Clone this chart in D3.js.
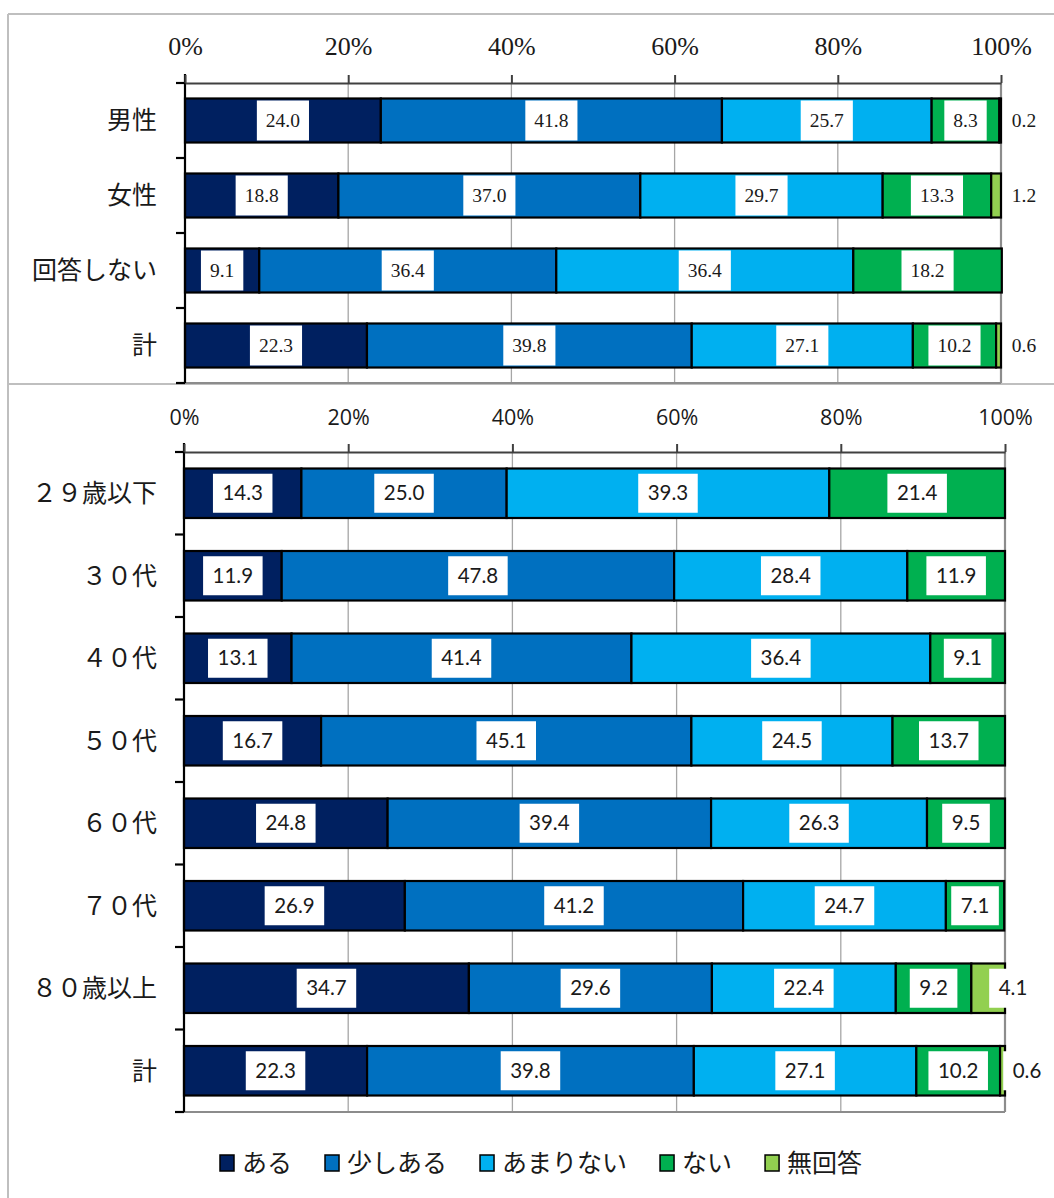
<!DOCTYPE html>
<html>
<head>
<meta charset="utf-8">
<script src="https://cdn.jsdelivr.net/npm/d3@7"></script>
<style>
  body { margin: 0; background: #fff; }
  svg { display: block; }
</style>
</head>
<body>
<svg id="chart" width="1054" height="1198"></svg>
<script>
// Answer categories and their colours
const seriesNames = ["ある", "少しある", "あまりない", "ない", "無回答"];
const seriesColors = ["#002060", "#0070C0", "#00B0F0", "#00B050", "#92D050"];
const tickValues = [0, 20, 40, 60, 80, 100];

// By gender (%)
const genderCats = ["男性", "女性", "回答しない", "計"];
const genderAru = [24.0, 18.8, 9.1, 22.3];
const genderSukoshi = [41.8, 37.0, 36.4, 39.8];
const genderAmari = [25.7, 29.7, 36.4, 27.1];
const genderNai = [8.3, 13.3, 18.2, 10.2];
const genderNoAnswer = [0.2, 1.2, 0, 0.6];

// By age group (%)
const ageCats = ["２９歳以下", "３０代", "４０代", "５０代", "６０代", "７０代", "８０歳以上", "計"];
const ageAru = [14.3, 11.9, 13.1, 16.7, 24.8, 26.9, 34.7, 22.3];
const ageSukoshi = [25.0, 47.8, 41.4, 45.1, 39.4, 41.2, 29.6, 39.8];
const ageAmari = [39.3, 28.4, 36.4, 24.5, 26.3, 24.7, 22.4, 27.1];
const ageNai = [21.4, 11.9, 9.1, 13.7, 9.5, 7.1, 9.2, 10.2];
const ageNoAnswer = [0, 0, 0, 0, 0, 0, 4.1, 0.6];

const svg = d3.select("#chart");
const fmt = d3.format(".1f");
const jpFont = "'Noto Sans CJK JP', sans-serif";

function buildRows(cats, cols) {
  return cats.map((c, i) => {
    const row = { cat: c };
    seriesNames.forEach((s, j) => { row[s] = cols[j][i]; });
    return row;
  });
}

// Outer frame lines
const frame = svg.append("g").attr("stroke", "#bfbfbf").attr("stroke-width", 2);
frame.append("line").attr("x1", 8).attr("x2", 1054).attr("y1", 14).attr("y2", 14);
frame.append("line").attr("x1", 8).attr("x2", 8).attr("y1", 14).attr("y2", 1198);
frame.append("line").attr("x1", 8).attr("x2", 1054).attr("y1", 384).attr("y2", 384);

function drawPanel(cfg) {
  const rows = buildRows(cfg.cats, cfg.cols);
  const x = d3.scaleLinear().domain([0, 100]).range([cfg.x0, cfg.x1]);
  const n = cfg.cats.length;
  const y = d3.scaleBand().domain(cfg.cats).range([cfg.y0, cfg.y1])
    .paddingInner(cfg.pad).paddingOuter(cfg.pad / 2);
  const step = y.step();
  const g = svg.append("g");

  // vertical gridlines
  g.append("g").selectAll("line").data(tickValues.filter(t => t > 0)).join("line")
    .attr("x1", d => x(d)).attr("x2", d => x(d))
    .attr("y1", cfg.y0).attr("y2", cfg.y1)
    .attr("stroke", d => d === 100 ? "#8c8c8c" : "#a6a6a6")
    .attr("stroke-width", d => d === 100 ? 2.2 : 1.3);

  // bottom edge of plot
  g.append("line").attr("x1", cfg.x0).attr("x2", cfg.x1)
    .attr("y1", cfg.y1).attr("y2", cfg.y1)
    .attr("stroke", "#8c8c8c").attr("stroke-width", 2);

  // stacked bars
  const stacked = d3.stack().keys(seriesNames)(rows);
  const layers = g.append("g").selectAll("g").data(stacked).join("g")
    .attr("fill", (d, i) => seriesColors[i]);
  layers.selectAll("rect").data(d => d.filter(p => p[1] - p[0] > 0)).join("rect")
    .attr("x", d => x(d[0]))
    .attr("width", d => x(d[1]) - x(d[0]))
    .attr("y", d => y(d.data.cat))
    .attr("height", y.bandwidth())
    .attr("stroke", "#000").attr("stroke-width", 2.2);

  // value labels in white boxes
  const lab = g.append("g");
  stacked.forEach((layer, si) => {
    layer.forEach(p => {
      const v = p[1] - p[0];
      if (v <= 0) return;
      const val = p.data[seriesNames[si]];
      const last = si === seriesNames.length - 1;
      let cx = (x(p[0]) + x(p[1])) / 2;
      if (last) cx = x(p[1]) + (val < 2 ? cfg.smallOff : cfg.bigOff);
      const cy = y(p.data.cat) + y.bandwidth() / 2;
      const box = lab.append("rect").attr("fill", "#fff");
      const t = lab.append("text")
        .attr("x", cx).attr("y", cy).attr("dy", "0.35em")
        .attr("text-anchor", "middle")
        .attr("font-family", cfg.numFont).attr("font-size", cfg.labelSize)
        .attr("fill", "#1a1a1a")
        .text(fmt(val));
      const w = t.node().getComputedTextLength() + cfg.boxPad * 2;
      box.attr("x", cx - w / 2).attr("width", w)
        .attr("y", cy - cfg.boxH / 2).attr("height", cfg.boxH);
    });
  });

  // left axis with ticks at band boundaries
  const yAxis = g.append("g").attr("stroke", "#000").attr("stroke-width", 2.2);
  yAxis.append("line").attr("x1", cfg.x0).attr("x2", cfg.x0)
    .attr("y1", cfg.y0 - 9).attr("y2", cfg.y1);
  yAxis.selectAll(".tk").data(d3.range(n + 1)).join("line").attr("class", "tk")
    .attr("x1", cfg.x0 - 9).attr("x2", cfg.x0)
    .attr("y1", k => cfg.y0 + k * step).attr("y2", k => cfg.y0 + k * step);

  // category labels
  g.append("g").selectAll("text").data(cfg.cats).join("text")
    .attr("x", cfg.x0 - cfg.catGap)
    .attr("y", d => y(d) + y.bandwidth() / 2)
    .attr("dy", "0.35em")
    .attr("text-anchor", "end")
    .attr("font-family", cfg.catFont).attr("font-size", 25)
    .attr("fill", "#1a1a1a")
    .text(d => d);

  // top percentage axis
  const xAxis = g.append("g").attr("transform", `translate(0,${cfg.y0})`)
    .call(d3.axisTop(x).tickValues(tickValues).tickSize(8).tickSizeOuter(0)
      .tickPadding(cfg.tickPad).tickFormat(d => d + "%"));
  xAxis.select(".domain").attr("stroke", "#404040").attr("stroke-width", 2);
  xAxis.selectAll(".tick line").attr("stroke", "#404040").attr("stroke-width", 2);
  xAxis.selectAll(".tick text")
    .attr("font-family", cfg.tickFont).attr("font-size", cfg.tickSize)
    .attr("fill", "#1a1a1a");
}

drawPanel({
  cats: genderCats,
  cols: [genderAru, genderSukoshi, genderAmari, genderNai, genderNoAnswer],
  x0: 185, x1: 1001, y0: 83, y1: 383, pad: 0.413,
  numFont: "'Liberation Serif', 'DejaVu Serif', serif", labelSize: 19.5, boxH: 40, boxPad: 9,
  catFont: "'Liberation Serif', " + jpFont, catGap: 28,
  tickFont: "'Liberation Serif', serif", tickSize: 26, tickPad: 20,
  smallOff: 23, bigOff: 8
});

drawPanel({
  cats: ageCats,
  cols: [ageAru, ageSukoshi, ageAmari, ageNai, ageNoAnswer],
  x0: 184, x1: 1005, y0: 452, y1: 1112, pad: 0.4,
  numFont: "Lato, 'Open Sans', sans-serif", labelSize: 20.5, boxH: 39, boxPad: 9.5,
  catFont: jpFont, catGap: 27,
  tickFont: "'Open Sans', Lato, sans-serif", tickSize: 21.5, tickPad: 19,
  smallOff: 22, bigOff: 8
});

// legend
const legend = svg.append("g").attr("transform", "translate(220,1163)");
let lx = 0;
seriesNames.forEach((s, i) => {
  const item = legend.append("g").attr("transform", `translate(${lx},0)`);
  item.append("rect").attr("x", 0).attr("y", -8).attr("width", 14).attr("height", 16)
    .attr("fill", seriesColors[i]).attr("stroke", "#000").attr("stroke-width", 1.5);
  const t = item.append("text").attr("x", 22).attr("y", 0).attr("dy", "0.36em")
    .attr("font-family", jpFont).attr("font-size", 25).attr("fill", "#1a1a1a")
    .text(s);
  lx += 22 + t.node().getComputedTextLength() + 33;
});
</script>
</body>
</html>
